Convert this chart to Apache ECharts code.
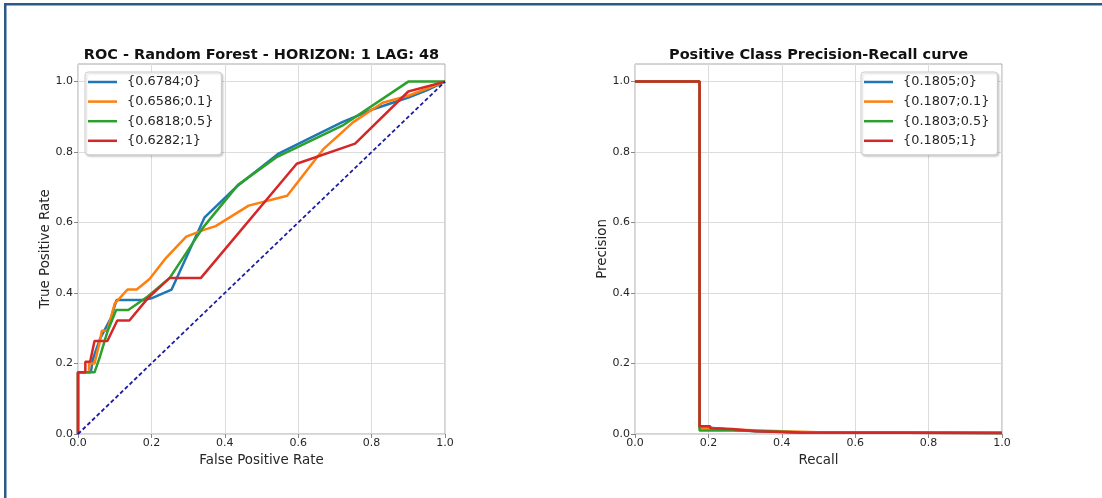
<!DOCTYPE html>
<html>
<head>
<meta charset="utf-8">
<script src="https://cdn.jsdelivr.net/npm/echarts@6/dist/echarts.min.js"></script>
<style>
  html, body { margin: 0; padding: 0; background: #ffffff; }
  #chart { width: 1102px; height: 498px; }
</style>
</head>
<body>
<div id="chart"></div>
<script>
// ---- data ----
const tickValues = [0, 0.2, 0.4, 0.6, 0.8, 1.0];

const rocNames = ['{0.6784;0}', '{0.6586;0.1}', '{0.6818;0.5}', '{0.6282;1}'];
const prNames = ['{0.1805;0}', '{0.1807;0.1}', '{0.1803;0.5}', '{0.1805;1}'];

// ROC curves: [false positive rate, true positive rate]
const rocBlue = [[0,0],[0,0.175],[0.035,0.175],[0.04,0.21],[0.048,0.235],[0.06,0.27],[0.09,0.33],[0.105,0.38],[0.178,0.38],[0.2,0.385],[0.255,0.41],[0.345,0.615],[0.43,0.7],[0.545,0.795],[0.72,0.885],[0.8,0.92],[0.9,0.955],[0.95,0.975],[1,1]];
const rocOrange = [[0,0],[0,0.175],[0.03,0.175],[0.03,0.2],[0.045,0.2],[0.06,0.265],[0.065,0.293],[0.08,0.293],[0.1,0.37],[0.135,0.41],[0.16,0.41],[0.195,0.44],[0.24,0.5],[0.295,0.56],[0.345,0.58],[0.375,0.59],[0.465,0.648],[0.57,0.676],[0.67,0.81],[0.75,0.885],[0.83,0.94],[0.9,0.96],[1,1]];
const rocGreen = [[0,0],[0,0.175],[0.045,0.175],[0.06,0.22],[0.08,0.29],[0.104,0.352],[0.137,0.352],[0.19,0.39],[0.25,0.443],[0.34,0.585],[0.436,0.707],[0.54,0.785],[0.72,0.875],[0.9,1.0],[1,1]];
const rocRed = [[0,0],[0,0.175],[0.02,0.175],[0.02,0.205],[0.033,0.205],[0.045,0.264],[0.08,0.264],[0.107,0.322],[0.14,0.322],[0.19,0.385],[0.25,0.443],[0.335,0.443],[0.596,0.767],[0.755,0.824],[0.9,0.972],[1,1]];
const chanceLine = [[0,0],[1,1]];

// Precision-recall curves: [recall, precision]
const prBlue = [[0,1],[0.176,1],[0.176,0.018],[0.205,0.018],[0.205,0.014],[0.265,0.012],[0.265,0.009],[0.33,0.008],[0.33,0.006],[0.44,0.005],[0.44,0.004],[1,0.003]];
const prOrange = [[0,1],[0.176,1],[0.176,0.016],[0.205,0.016],[0.205,0.015],[0.265,0.013],[0.265,0.011],[0.4,0.008],[0.4,0.006],[0.5,0.005],[1,0.004]];
const prGreen = [[0,1],[0.176,1],[0.176,0.01],[0.265,0.01],[0.265,0.009],[0.36,0.008],[0.36,0.005],[0.45,0.004],[1,0.003]];
const prRed = [[0,1],[0.176,1],[0.176,0.022],[0.205,0.022],[0.205,0.016],[0.265,0.014],[0.265,0.009],[0.33,0.008],[0.33,0.005],[0.45,0.004],[1,0.003]];

const colors = ['#1f77b4', '#ff7f0e', '#2ca02c', '#d62728'];

// ---- styling helpers ----
const FONT = 'DejaVu Sans';
const gridColor = '#dcdcdc';
const spineColor = '#a8a8a8';
const textColor = '#262626';

function valueAxis(gridIndex, name, nameGap, isY) {
  return {
    type: 'value',
    gridIndex: gridIndex,
    min: 0,
    max: isY ? 1.05 : 1.0,
    interval: 0.2,
    name: name,
    nameLocation: 'middle',
    nameGap: nameGap,
    nameTextStyle: { fontFamily: FONT, fontSize: 13.4, color: textColor },
    axisLine: { show: false },
    axisTick: { show: true, customValues: tickValues, length: 4, inside: false, lineStyle: { color: '#888', width: 1 } },
    axisLabel: {
      customValues: tickValues,
      margin: isY ? 5 : 4,
      fontFamily: FONT, fontSize: 11, color: textColor,
      formatter: v => v.toFixed(1)
    },
    splitLine: { show: true, lineStyle: { color: gridColor, width: 1 } }
  };
}

function curve(name, data, color, xi, z) {
  return {
    name: name, type: 'line', data: data,
    xAxisIndex: xi, yAxisIndex: xi,
    showSymbol: false, symbol: 'none', animation: false,
    lineStyle: { color: color, width: 2.5 },
    itemStyle: { color: color },
    z: z
  };
}

function legend(names, left) {
  return {
    data: names,
    orient: 'vertical',
    left: left, top: 72,
    icon: 'rect',
    itemWidth: 29, itemHeight: 2.5,
    itemGap: 4.6,
    padding: [2.5, 8, 6.5, 3],
    backgroundColor: '#ffffff',
    borderColor: '#cccccc', borderWidth: 1, borderRadius: 3,
    shadowColor: 'rgba(0,0,0,0.18)', shadowBlur: 2, shadowOffsetX: 1.5, shadowOffsetY: 1.5,
    textStyle: { fontFamily: FONT, fontSize: 12.9, color: textColor, lineHeight: 15, padding: [0, 0, 0, 5] },
    selectedMode: false
  };
}

const chart = echarts.init(document.getElementById('chart'), null, { renderer: 'canvas' });

chart.setOption({
  backgroundColor: '#ffffff',
  animation: false,
  grid: [
    { left: 78, right: 657, top: 64, bottom: 64, show: true, borderColor: spineColor, borderWidth: 1, backgroundColor: 'transparent' },
    { left: 635, right: 100, top: 64, bottom: 64, show: true, borderColor: spineColor, borderWidth: 1, backgroundColor: 'transparent' }
  ],
  xAxis: [
    valueAxis(0, 'False Positive Rate', 16, false),
    valueAxis(1, 'Recall', 16, false)
  ],
  yAxis: [
    valueAxis(0, 'True Positive Rate', 24.6, true),
    valueAxis(1, 'Precision', 24.6, true)
  ],
  legend: [legend(rocNames, 85), legend(prNames, 861)],
  graphic: [
    // outer frame
    { type: 'rect', shape: { x: 4, y: 3, width: 1098, height: 2.5 }, style: { fill: '#2c5a88' }, silent: true },
    { type: 'rect', shape: { x: 4, y: 3, width: 2.5, height: 495 }, style: { fill: '#2c5a88' }, silent: true },
    // panel titles
    { type: 'text', x: 261.5, y: 55.5, style: { text: 'ROC - Random Forest - HORIZON: 1 LAG: 48', align: 'center', verticalAlign: 'middle', fontFamily: FONT, fontSize: 14.5, fontWeight: 'bold', fill: '#111' }, silent: true },
    { type: 'text', x: 818.5, y: 55.5, style: { text: 'Positive Class Precision-Recall curve', align: 'center', verticalAlign: 'middle', fontFamily: FONT, fontSize: 14.5, fontWeight: 'bold', fill: '#111' }, silent: true }
  ],
  series: [
    curve(rocNames[0], rocBlue, colors[0], 0, 3),
    curve(rocNames[1], rocOrange, colors[1], 0, 4),
    curve(rocNames[2], rocGreen, colors[2], 0, 5),
    curve(rocNames[3], rocRed, colors[3], 0, 6),
    {
      type: 'line', data: chanceLine, xAxisIndex: 0, yAxisIndex: 0,
      showSymbol: false, symbol: 'none', animation: false, z: 7,
      lineStyle: { color: '#1c1ca0', width: 1.8, type: [4, 2.5] }
    },
    curve(prNames[0], prBlue, colors[0], 1, 3),
    curve(prNames[1], prOrange, colors[1], 1, 4),
    curve(prNames[2], prGreen, colors[2], 1, 5),
    curve(prNames[3], prRed, colors[3], 1, 6)
  ]
});
</script>
</body>
</html>
